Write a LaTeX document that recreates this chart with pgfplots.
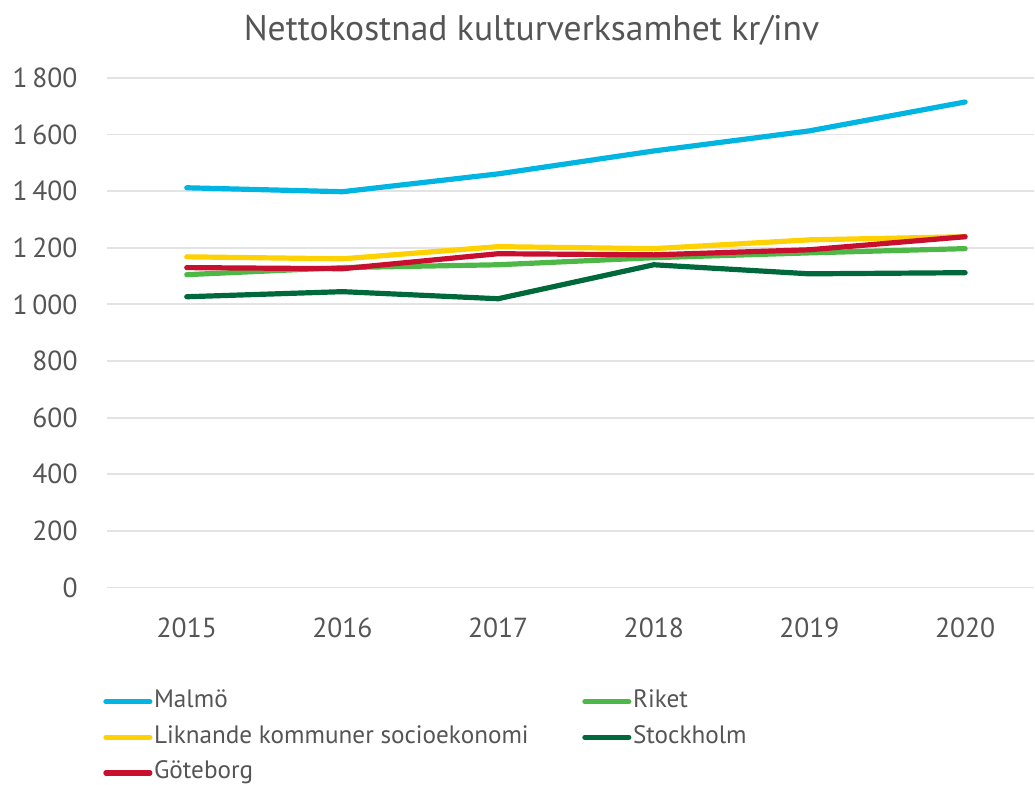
\documentclass[border=0pt]{standalone}
\usepackage{pgfplots}
\pgfplotsset{compat=1.18}
\usepackage{fontspec}
\setmainfont{PT Sans}
\definecolor{txt}{HTML}{555555}
\definecolor{gridc}{HTML}{E3E3E3}
\definecolor{malmo}{HTML}{00B5E2}
\definecolor{riket}{HTML}{4DB848}
\definecolor{likn}{HTML}{FFD100}
\definecolor{sthlm}{HTML}{00693C}
\definecolor{gbg}{HTML}{C8102E}
\begin{document}
\begin{tikzpicture}
\path (-53.5pt,-98.5pt) rectangle (464pt,294pt);
\begin{axis}[
  scale only axis,
  width=464pt, height=255pt,
  at={(0,0)}, anchor=south west,
  xmin=2014.487, xmax=2020.443,
  ymin=0, ymax=1800,
  axis line style={draw=none},
  xtick={2015,2016,2017,2018,2019,2020},
  ytick={0,200,...,1800},
  major tick length=0pt,
  ymajorgrids,
  grid style={gridc, line width=0.9pt},
  /pgf/number format/assume math mode=true,
  xticklabel={\pgfmathprintnumber[set thousands separator={}]{\tick}},
  yticklabel={\pgfmathprintnumber[1000 sep={\hspace{0.17em}}]{\tick}},
  xticklabel style={anchor=base, inner sep=0pt, yshift=-25pt, font=\fontsize{13.8}{16}\selectfont, text=txt},
  yticklabel style={anchor=east, inner sep=0pt, xshift=-14.5pt, font=\fontsize{13.8}{16}\selectfont, text=txt},
  clip=false,
  legend columns=2,
  legend cell align=left,
  legend style={draw=none, fill=none, inner sep=0pt,
    at={(0,0)}, anchor=north west, xshift=-2pt, yshift=-51pt,
    font=\fontsize{12.6}{15}\selectfont, text=txt,
    nodes={inner xsep=0.8pt, inner ysep=0pt, text height=9pt, text depth=3pt},
    row sep=5.8pt,
    /tikz/every even column/.append style={column sep=26pt}},
  legend image code/.code={\draw[#1] (0pt,0pt) -- (22pt,0pt);},
  every axis plot/.append style={line width=2.6pt, line join=round, line cap=round},
]
\addplot[malmo] coordinates {(2015,1412) (2016,1398) (2017,1461) (2018,1542) (2019,1613) (2020,1715)};
\addlegendentry{Malmö}
\addplot[riket] coordinates {(2015,1105) (2016,1130) (2017,1140) (2018,1165) (2019,1182) (2020,1197)};
\addlegendentry{Riket}
\addplot[likn] coordinates {(2015,1168) (2016,1161) (2017,1204) (2018,1197) (2019,1228) (2020,1239)};
\addlegendentry{Liknande kommuner socioekonomi}
\addplot[sthlm] coordinates {(2015,1027) (2016,1045) (2017,1020) (2018,1140) (2019,1108) (2020,1112)};
\addlegendentry{Stockholm}
\addplot[gbg] coordinates {(2015,1130) (2016,1126) (2017,1179) (2018,1175) (2019,1193) (2020,1239)};
\addlegendentry{Göteborg}
\end{axis}
\node[text=txt, font=\fontsize{17.8}{21}\selectfont, inner sep=0pt] at (212.5pt,279pt) {Nettokostnad kulturverksamhet kr/inv};
\end{tikzpicture}
\end{document}
